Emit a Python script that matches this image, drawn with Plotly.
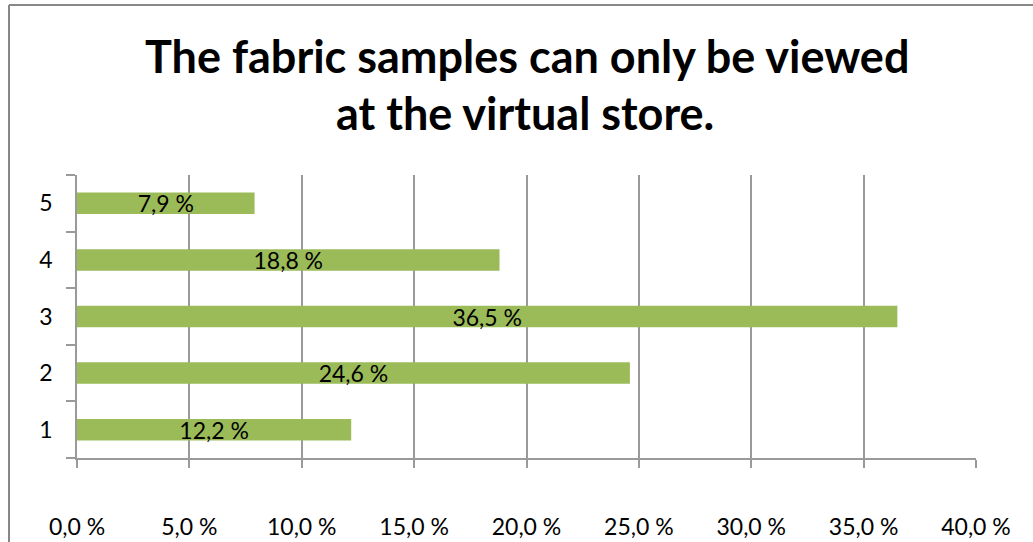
import plotly.graph_objects as go

# Survey answers (scale 1-5) and share of respondents in percent
categories = ["1", "2", "3", "4", "5"]
shares = [12.2, 24.6, 36.5, 18.8, 7.9]
x_ticks = [0, 5, 10, 15, 20, 25, 30, 35, 40]
x_tick_labels = [f"{v:.1f} %".replace(".", ",") for v in x_ticks]
bar_labels = [f"{v:.1f} %".replace(".", ",") for v in shares]

title_lines = ["The fabric samples can only be viewed", "at the virtual store."]

FONT = "Lato, Calibri, Arial, sans-serif"
GRID = "#9a9a9a"

# plot area geometry in pixels, used to place the title lines
PLOT_TOP, PLOT_BOTTOM = 175, 458
PLOT_LEFT, PLOT_RIGHT = 77, 976


def py_to_paper(py):
    return (PLOT_BOTTOM - py) / (PLOT_BOTTOM - PLOT_TOP)


def px_to_paper(px):
    return (px - PLOT_LEFT) / (PLOT_RIGHT - PLOT_LEFT)


fig = go.Figure(
    go.Bar(
        x=shares,
        y=categories,
        orientation="h",
        width=0.38,
        marker=dict(color="#9bbb59", line=dict(width=0)),
        text=bar_labels,
        textposition="inside",
        insidetextanchor="middle",
        textangle=0,
        textfont=dict(family=FONT, size=23, color="#000000"),
        hoverinfo="skip",
    )
)

fig.update_layout(
    width=1033,
    height=542,
    margin=dict(l=PLOT_LEFT, r=1033 - PLOT_RIGHT, t=PLOT_TOP, b=542 - PLOT_BOTTOM,
                autoexpand=False),
    paper_bgcolor="white",
    plot_bgcolor="white",
    showlegend=False,
    uniformtext=dict(minsize=23, mode="show"),
    font=dict(family=FONT, size=23, color="#000000"),
)

for line, cy, cx in zip(title_lines, [56, 113], [527, 525]):
    fig.add_annotation(
        text=line,
        xref="paper", yref="paper",
        x=px_to_paper(cx), y=py_to_paper(cy),
        xanchor="center", yanchor="middle",
        showarrow=False,
        font=dict(family=FONT, size=45, color="#000000", weight="bold"),
    )

fig.update_xaxes(
    range=[0, 40],
    tickvals=x_ticks,
    ticktext=x_tick_labels,
    automargin=False,
    showgrid=True,
    gridcolor=GRID,
    gridwidth=1.5,
    zeroline=False,
    showline=True,
    linecolor=GRID,
    linewidth=1.5,
    ticks="outside",
    ticklen=8,
    tickwidth=1.5,
    tickcolor=GRID,
    ticklabelstandoff=40,
    tickfont=dict(family=FONT, size=23, color="#000000"),
)

fig.update_yaxes(
    type="category",
    categoryorder="array",
    categoryarray=categories,
    range=[-0.5, 4.5],
    automargin=False,
    showgrid=False,
    zeroline=False,
    showline=True,
    linecolor=GRID,
    linewidth=1.5,
    ticks="outside",
    tickson="boundaries",
    ticklen=9,
    tickwidth=1.5,
    tickcolor=GRID,
    ticklabelstandoff=18,
    tickfont=dict(family=FONT, size=23, color="#000000"),
)

# Chart frame: left and top edges of the outer border
fig.add_shape(type="line", xref="paper", yref="paper",
              x0=px_to_paper(9), x1=px_to_paper(9), y0=-0.5, y1=py_to_paper(5),
              line=dict(color="#878787", width=2))
fig.add_shape(type="line", xref="paper", yref="paper",
              x0=px_to_paper(9), x1=1.2, y0=py_to_paper(5), y1=py_to_paper(5),
              line=dict(color="#878787", width=2))

fig.write_html("out.html")
